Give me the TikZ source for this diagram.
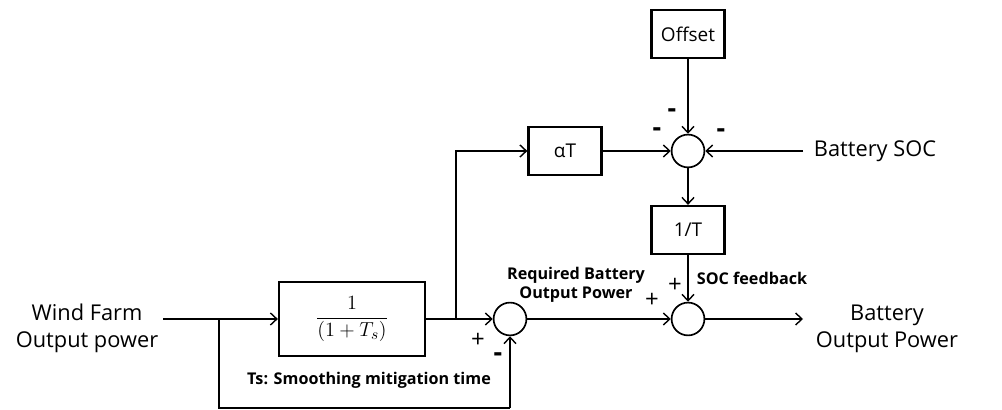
\documentclass[tikz,border=0pt]{standalone}
\usepackage{fontspec}
\setmainfont{Open Sans}
\usetikzlibrary{positioning,arrows.meta}

\begin{document}
\begin{tikzpicture}[
  x=0.25mm, y=-0.25mm,
  blk/.style={draw, line width=1.6pt, minimum width=18.25mm, minimum height=12mm, font=\fontsize{13.5}{16}\selectfont},
  sumc/.style={draw, circle, line width=1.2pt, minimum size=8.2mm, inner sep=0pt},
  sig/.style={font=\fontsize{15.5}{19}\selectfont, align=center},
  note/.style={font=\fontsize{11.5}{13.5}\selectfont\bfseries, align=center},
  sgn/.style={font=\fontsize{17}{17}\selectfont, inner sep=0pt},
  neg/.style={font=\fontsize{19}{19}\selectfont\bfseries, inner sep=0pt},
  arr/.style={-{Straight Barb[length=1.6mm,width=3mm]}, line width=1pt},
  wire/.style={line width=1pt}
]
\useasboundingbox (0,0) rectangle (1002,410);

% forward path
\node[sig] (wind) at (87,328) {Wind Farm\\Output power};
\coordinate (in) at (163,319);
\coordinate (tap) at (219,319);
\node[blk, minimum width=36.5mm, minimum height=18.5mm, font=\fontsize{15}{17}\selectfont] (lpf) at (352,319) {$\displaystyle\frac{1}{(1+T_s)}$};
\coordinate (fork) at (456,319);
\node[sumc] (sreq) at (510,319) {};
\node[sumc] (sout) at (688,319) {};
\coordinate (out) at (803,319);
\node[sig] (outl) at (887,329) {Battery\\Output Power};

% SOC loop
\node[blk] (gain) at (565,151) {αT};
\node[sumc] (ssoc) at (688,151) {};
\node[blk] (offset) at (688,34) {Offset};
\node[blk] (inv) at (688,230) {1/T};
\coordinate (soc) at (803,151);
\node[sig, right=1.5mm of soc] (socl) {Battery SOC};

% feedback corners
\coordinate (fbl) at (219,408);
\coordinate (fbr) at (510,408);

\draw[wire] (in) -- (tap);
\draw[arr] (tap) -- (lpf);
\draw[wire] (tap) -- (fbl) -- (fbr);
\draw[arr] (fbr) -- (sreq);
\draw[arr] (lpf) -- (sreq);
\draw[arr] (fork) |- (gain);
\draw[arr] (gain) -- (ssoc);
\draw[arr] (offset) -- (ssoc);
\draw[arr] (soc) -- (ssoc);
\draw[arr] (ssoc) -- (inv);
\draw[arr] (inv) -- (sout);
\draw[arr] (sreq) -- (sout);
\draw[arr] (sout) -- (out);

% signs
\node[sgn] (p1) at (478,340) {+};
\node[neg] (m1) at (498,357) {-};
\node[sgn] (p2) at (652,300) {+};
\node[sgn] (p3) at (675,285) {+};
\node[neg] (m2) at (672,113) {-};
\node[neg] (m3) at (657,132) {-};
\node[neg] (m4) at (721,133) {-};

% labels
\node[note] (reql) at (576,285) {Required Battery\\Output Power};
\node[note] (fbkl) at (752,278) {SOC feedback};
\node[note] (tsl) at (369,380) {Ts: Smoothing mitigation time};
\end{tikzpicture}
\end{document}
